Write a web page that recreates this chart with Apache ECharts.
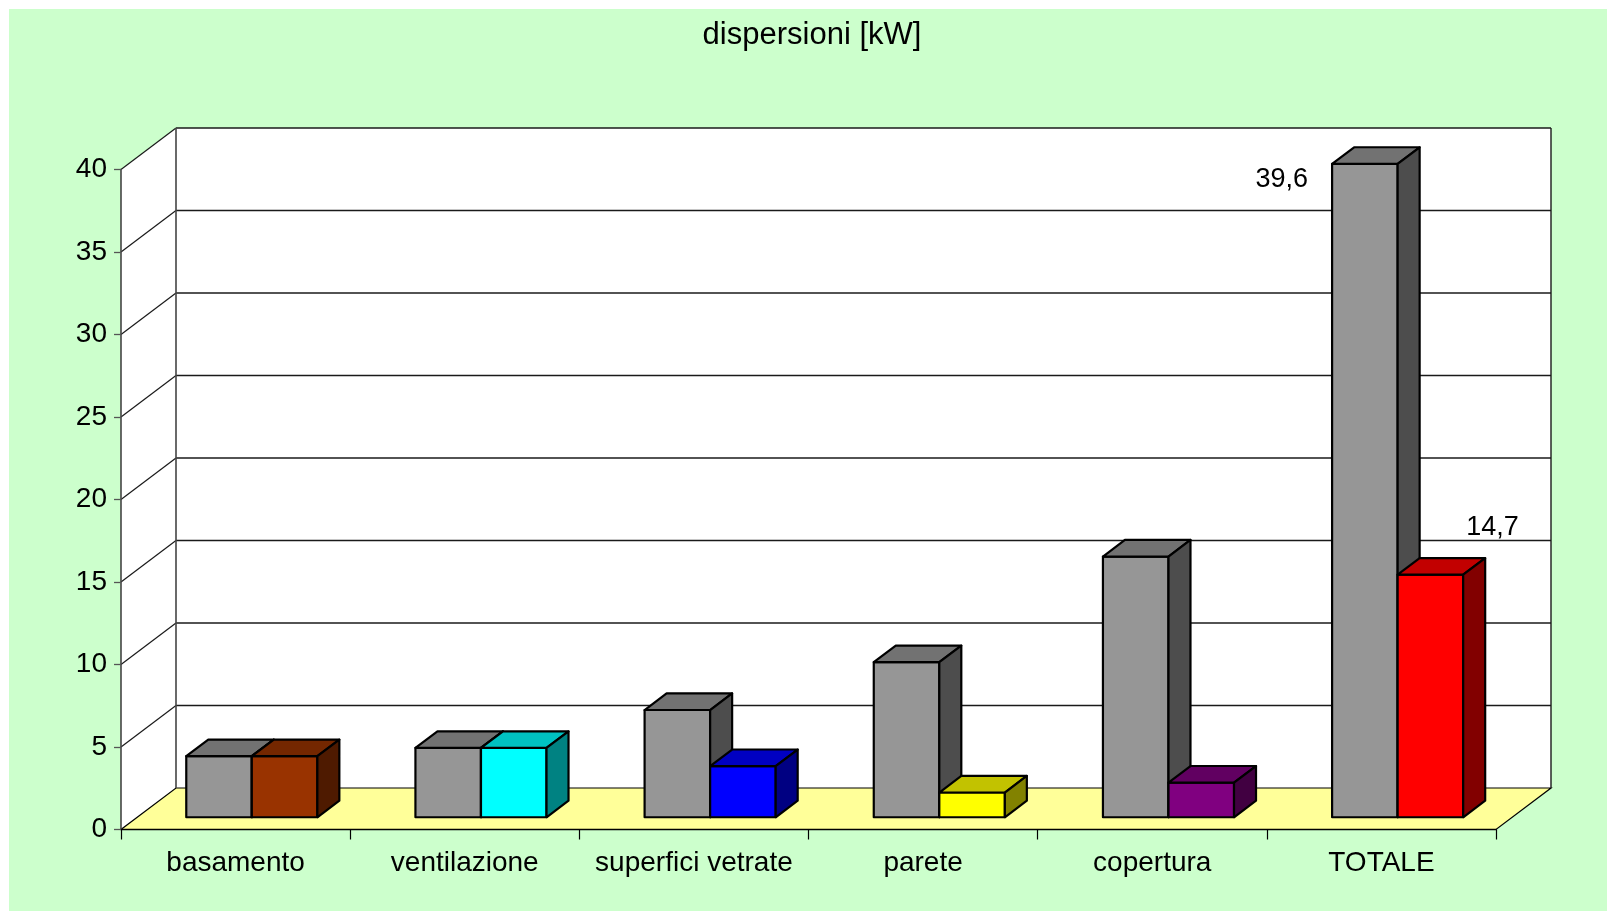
<!DOCTYPE html>
<html>
<head>
<meta charset="utf-8">
<title>dispersioni [kW]</title>
<script src="https://cdn.jsdelivr.net/npm/echarts@6/dist/echarts.min.js"></script>
<style>
  html, body { margin: 0; padding: 0; background: #ffffff; }
  #panel { position: absolute; left: 9px; top: 9px; width: 1598px; height: 902px; background: #ccffcc; }
  #chart { position: absolute; left: 0; top: 0; width: 1616px; height: 920px; }
</style>
</head>
<body>
<div id="panel"></div>
<div id="chart"></div>
<script>
// Categories of heat loss and the two sets of values (kW)
const categories = ['basamento', 'ventilazione', 'superfici vetrate', 'parete', 'copertura', 'TOTALE'];
const valuesGrey = [3.7, 4.2, 6.5, 9.4, 15.8, 39.6];
const valuesColour = [3.7, 4.2, 3.1, 1.5, 2.1, 14.7];
const yTicks = [0, 5, 10, 15, 20, 25, 30, 35, 40];

// Face colours of the coloured bars, one per category
const barColours = ['#993300', '#00ffff', '#0000ff', '#ffff00', '#800080', '#ff0000'];
const greyColour = '#969696';

// Oblique depth of the chart box (pixels) and bar placement inside it
const DX = 55, DY = 41.5;
const DEPTH_FRONT = 0.295;
const DEPTH_SIZE = 0.40;
const BAR_W = 0.286;
const FONT = '"Liberation Sans", Arial, sans-serif';

const fmt = v => v.toFixed(1).replace('.', ',');

// Scale the RGB channels of a #rrggbb colour by k (k < 1 darkens)
function shade(hex, k) {
  const n = parseInt(hex.slice(1), 16);
  const r = Math.round(((n >> 16) & 255) * k);
  const g = Math.round(((n >> 8) & 255) * k);
  const b = Math.round((n & 255) * k);
  return 'rgb(' + r + ',' + g + ',' + b + ')';
}

// Back wall, side wall, floor and the gridlines drawn on them
function renderBox(params, api) {
  const cs = params.coordSys;
  const x0 = cs.x, x1 = cs.x + cs.width;
  const yBase = api.coord([0, yTicks[0]])[1];
  const yTop = api.coord([0, yTicks[yTicks.length - 1]])[1];
  const children = [];
  children.push({ type: 'rect', shape: { x: x0 + DX, y: yTop - DY, width: x1 - x0, height: yBase - yTop },
    style: { fill: '#ffffff' } });
  children.push({ type: 'polygon', shape: { points: [[x0, yBase], [x0, yTop], [x0 + DX, yTop - DY], [x0 + DX, yBase - DY]] },
    style: { fill: '#ffffff' } });
  children.push({ type: 'polygon', shape: { points: [[x0, yBase], [x1, yBase], [x1 + DX, yBase - DY], [x0 + DX, yBase - DY]] },
    style: { fill: '#ffff99', stroke: '#000000', lineWidth: 1.2 } });
  yTicks.forEach(v => {
    if (v === yTicks[0]) return;
    const y = api.coord([0, v])[1];
    children.push({ type: 'line', shape: { x1: x0 + DX, y1: y - DY, x2: x1 + DX, y2: y - DY },
      style: { stroke: '#1a1a1a', lineWidth: 1.3 } });
    children.push({ type: 'line', shape: { x1: x0, y1: y, x2: x0 + DX, y2: y - DY },
      style: { stroke: '#1a1a1a', lineWidth: 1.2 } });
  });
  children.push({ type: 'line', shape: { x1: x0 + DX, y1: yBase - DY, x2: x0 + DX, y2: yTop - DY },
    style: { stroke: '#444444', lineWidth: 1.6 } });
  children.push({ type: 'line', shape: { x1: x1 + DX, y1: yBase - DY, x2: x1 + DX, y2: yTop - DY },
    style: { stroke: '#1a1a1a', lineWidth: 1.4 } });
  return { type: 'group', children: children };
}

// Draws a 3D block: front face, darker top face and darkest right side face
function makeBarRenderer(side, colourOf, label) {
  return function (params, api) {
    const idx = api.value(0), val = api.value(1);
    const base = api.coord([idx, 0]);
    const top = api.coord([idx, val]);
    const band = api.size([1, 0])[0];
    const w = band * BAR_W;
    const sx = DX * DEPTH_FRONT, sy = DY * DEPTH_FRONT;
    const dx = DX * DEPTH_SIZE, dy = DY * DEPTH_SIZE;
    const cx = base[0] + sx;
    const xl = side === 0 ? cx - w : cx;
    const xr = xl + w;
    const yb = base[1] - sy, yt = top[1] - sy;
    const c = colourOf(idx);
    const edge = { stroke: '#000000', lineWidth: 2.2, lineJoin: 'round' };
    const children = [
      { type: 'rect', shape: { x: xl, y: yt, width: w, height: yb - yt }, style: Object.assign({ fill: c }, edge) },
      { type: 'polygon', shape: { points: [[xl, yt], [xr, yt], [xr + dx, yt - dy], [xl + dx, yt - dy]] },
        style: Object.assign({ fill: shade(c, 0.76) }, edge) },
      { type: 'polygon', shape: { points: [[xr, yt], [xr, yb], [xr + dx, yb - dy], [xr + dx, yt - dy]] },
        style: Object.assign({ fill: shade(c, 0.51) }, edge) }
    ];
    if (idx === categories.length - 1) {
      children.push({ type: 'text', style: {
        text: fmt(val),
        x: (label.align === 'right' ? xl : xr) + label.dx,
        y: yt + label.dy,
        align: label.align, verticalAlign: 'middle',
        font: '27px ' + FONT, fill: '#000000'
      } });
    }
    return { type: 'group', children: children };
  };
}

const chart = echarts.init(document.getElementById('chart'), null, { renderer: 'canvas' });
chart.setOption({
  backgroundColor: 'transparent',
  animation: false,
  graphic: [{
    type: 'text', x: 812, y: 35,
    style: { text: 'dispersioni [kW]', font: '31px ' + FONT, fill: '#000000', align: 'center', verticalAlign: 'middle' }
  }],
  grid: { left: 121, top: 169.5, width: 1375, height: 660, containLabel: false },
  xAxis: {
    type: 'category', data: categories, boundaryGap: true, z: 10,
    axisLine: { lineStyle: { color: '#000000', width: 1.3 } },
    axisTick: { show: true, length: 10, inside: false, lineStyle: { color: '#000000', width: 1.2 } },
    axisLabel: { margin: 20, fontSize: 28, fontFamily: FONT, color: '#000000', interval: 0 },
    splitLine: { show: false }
  },
  yAxis: {
    type: 'value', min: yTicks[0], max: yTicks[yTicks.length - 1], interval: yTicks[1] - yTicks[0], z: 10,
    axisLine: { show: true, lineStyle: { color: '#444444', width: 1.6 } },
    axisTick: { show: true, length: 7, inside: false, lineStyle: { color: '#555555', width: 1.3 } },
    axisLabel: { margin: 14, fontSize: 28, fontFamily: FONT, color: '#000000' },
    splitLine: { show: false }
  },
  series: [
    { type: 'custom', name: 'box', z: 1, silent: true, data: [[0, 0]], renderItem: renderBox },
    { type: 'custom', name: 'grigio', z: 2, silent: true,
      data: valuesGrey.map((v, i) => [i, v]),
      renderItem: makeBarRenderer(0, () => greyColour, { align: 'right', dx: -24, dy: 16 }) },
    { type: 'custom', name: 'colore', z: 3, silent: true,
      data: valuesColour.map((v, i) => [i, v]),
      renderItem: makeBarRenderer(1, i => barColours[i], { align: 'left', dx: 3, dy: -47 }) }
  ]
});
</script>
</body>
</html>
